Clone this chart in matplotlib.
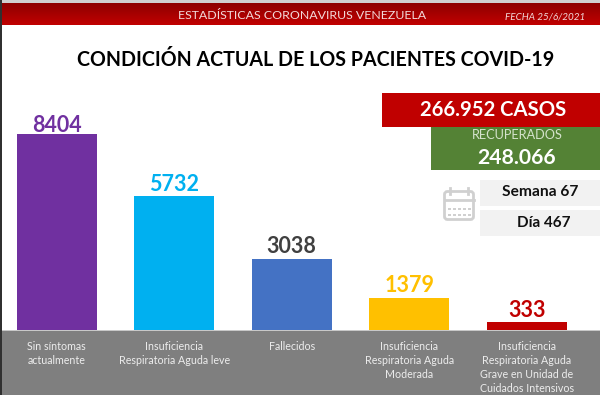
import numpy as np
import matplotlib
matplotlib.use('Agg')
import matplotlib.pyplot as plt
from matplotlib.patches import Rectangle, FancyBboxPatch

plt.rcParams['font.family'] = ['Lato', 'DejaVu Sans']

categories = ['Sin síntomas\nactualmente',
              'Insuficiencia\nRespiratoria Aguda leve',
              'Fallecidos',
              'Insuficiencia\nRespiratoria Aguda\nModerada',
              'Insuficiencia\nRespiratoria Aguda\nGrave en Unidad de\nCuidados Intensivos']
values = [8404, 5732, 3038, 1379, 333]
bar_colors = ['#7030A0', '#00B0F0', '#4472C4', '#FFC000', '#C00000']
label_colors = ['#7030A0', '#00B0F0', '#404040', '#FFC000', '#C00000']
label_pads = [-1.5, 1.2, 1.2, 1.2, 1.2]

header = 'ESTADÍSTICAS CORONAVIRUS VENEZUELA'
fecha = 'FECHA 25/6/2021'
title = 'CONDICIÓN ACTUAL DE LOS PACIENTES COVID-19'
casos = '266.952 CASOS'
recup_label = 'RECUPERADOS'
recup_value = '248.066'
semana = 'Semana 67'
dia = 'Día 467'

fig = plt.figure(figsize=(6, 3.95), dpi=100)

# background layer in pixel coordinates
bg = fig.add_axes([0, 0, 1, 1])
bg.set_xlim(0, 600)
bg.set_ylim(395, 0)
bg.axis('off')


def box(x0, y0, x1, y1, color):
    bg.add_patch(Rectangle((x0, y0), x1 - x0, y1 - y0, fc=color, ec='none'))


box(0, 0, 600, 3.5, '#D0D0D0')
box(0, 0, 2, 395, '#303030')
# header with slight gradient
grad = np.linspace(0, 1, 20).reshape(-1, 1)
cmap = matplotlib.colors.LinearSegmentedColormap.from_list('h', ['#8E0000', '#C00000'])
bg.imshow(grad, extent=(2, 600, 25, 3.5), cmap=cmap, aspect='auto', zorder=1)
bg.set_xlim(0, 600)
bg.set_ylim(395, 0)
box(2, 330.5, 600, 395, '#7F7F7F')
box(2, 330, 600, 331, '#C8C8C8')

bg.text(302, 15.5, header, color='#F2D9D9', fontsize=8.9, ha='center', va='center', zorder=3)
bg.text(545, 16.5, fecha, color='#F2D9D9', fontsize=7.1, style='italic', ha='center', va='center', zorder=3)
bg.text(316, 60, title, color='black', fontsize=14.1, fontweight='bold', ha='center', va='center')

box(382, 92.5, 600, 127, '#C00000')
bg.text(493, 110, casos, color='white', fontsize=14.6, fontweight='bold', ha='center', va='center')
box(431, 127, 600, 170, '#548235')
bg.text(517, 135, recup_label, color='#D5E3CC', fontsize=9.2, ha='center', va='center')
bg.text(517, 158, recup_value, color='white', fontsize=15.2, fontweight='bold', ha='center', va='center')
box(480, 179.5, 600, 206, '#F2F2F2')
bg.text(540, 191.5, semana, color='#111111', fontsize=11.2, fontweight='bold', ha='center', va='center')
box(480, 210, 600, 236, '#F2F2F2')
bg.text(544, 223, dia, color='#111111', fontsize=11, fontweight='bold', ha='center', va='center')

# calendar icon
icon = '#D0D0D0'
bg.add_patch(FancyBboxPatch((444.5, 191.5), 29, 28, boxstyle='round,pad=0,rounding_size=3',
                            fc='white', ec=icon, lw=2))
bg.plot([444.5, 473.5], [199.5, 199.5], color=icon, lw=2)
bg.plot([450, 450], [188, 194], color=icon, lw=2)
bg.plot([468, 468], [188, 194], color=icon, lw=2)
for yy in (209, 214.5):
    for xx in (448, 453, 458, 463, 468):
        box(xx, yy - 1, xx + 2.5, yy + 1, icon)

# bars, x=0 at pixel 56.5, step 117.6 px, baseline at pixel 330
ax = fig.add_axes([0, 65 / 395, 1, 330 / 395])
ax.patch.set_alpha(0)
step = 117.6
ax.set_xlim(-56.5 / step, (600 - 56.5) / step)
ax.set_ylim(0, 330 / 0.02332)
ax.axis('off')
xs = np.arange(len(values))
ax.bar(xs, values, width=80 / step, color=bar_colors)
for x, v, c, pad in zip(xs, values, label_colors, label_pads):
    ax.annotate(str(v), (x, v), xytext=(0, pad), textcoords='offset points',
                color=c, fontsize=15.5, fontweight='bold', ha='center', va='bottom')

# category labels
for x, name in zip(xs, categories):
    px = 56.5 + x * step
    bg.text(px, 340.5, name, color='#EDEDED', fontsize=7.7, ha='center', va='top', linespacing=1.34)

fig.savefig('out.png', dpi=100)
